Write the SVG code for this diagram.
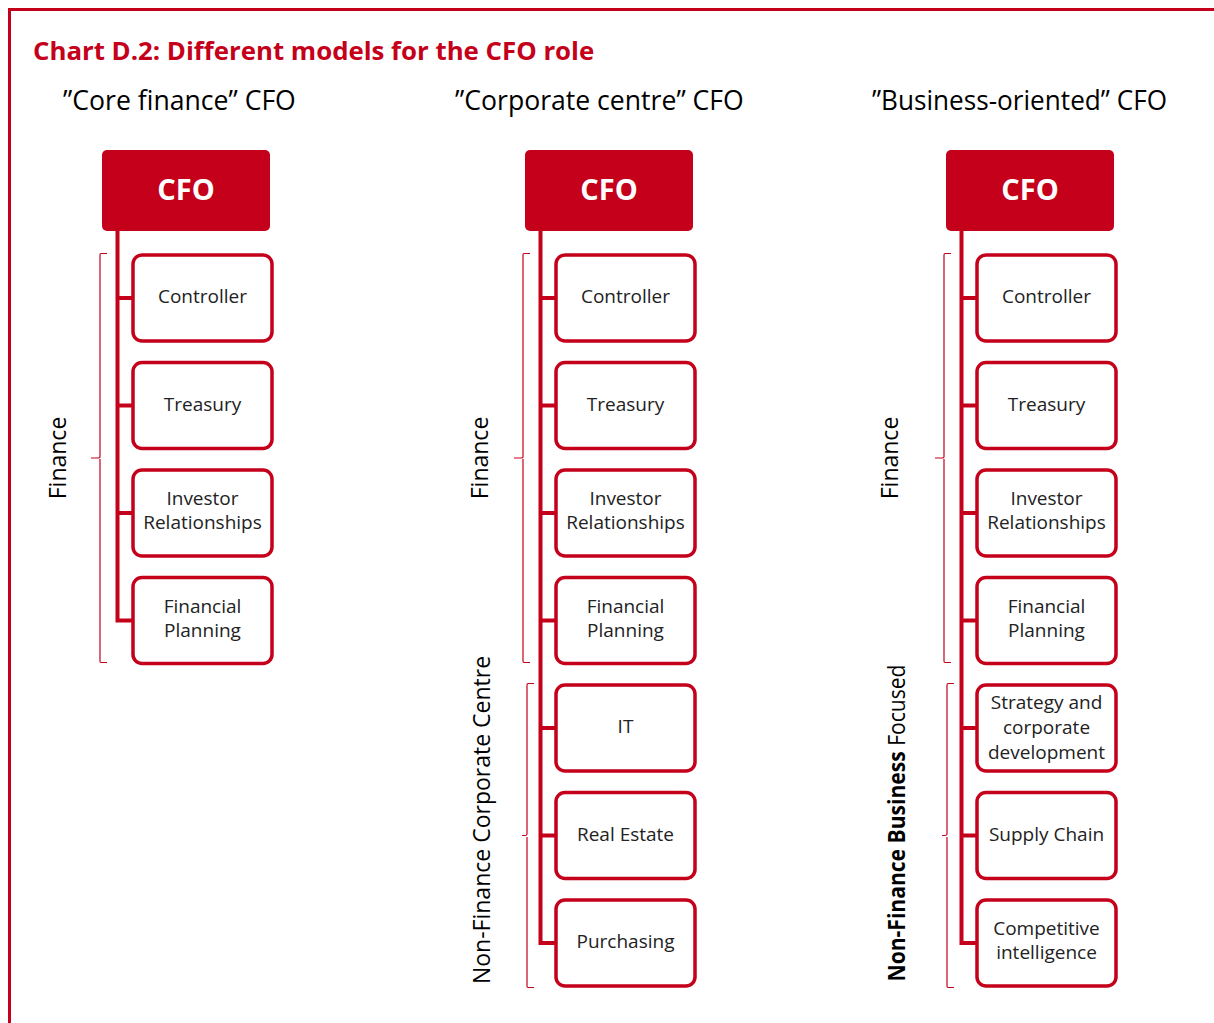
<svg xmlns="http://www.w3.org/2000/svg" width="1214" height="1023" viewBox="0 0 1214 1023">
  <style>
    .frame { fill: none; stroke: #C4001A; stroke-width: 3; }
    .title { font-family: "Open Sans", "Liberation Sans", sans-serif; font-weight: bold; font-size: 25.8px; fill: #C4001A; }
    .sub { font-family: "Open Sans", "Liberation Sans", sans-serif; font-size: 26.6px; fill: #000; }
    .cfo-box { fill: #C4001A; }
    .cfo-label { font-family: "Open Sans", "Liberation Sans", sans-serif; font-weight: bold; font-size: 29px; fill: #fff; text-anchor: middle; }
    .unit-box { fill: #fff; stroke: #C4001A; stroke-width: 3.5; }
    .unit-label { font-family: "Open Sans", "Liberation Sans", sans-serif; font-size: 19px; fill: #222; text-anchor: middle; }
    .trunk { fill: none; stroke: #C4001A; stroke-width: 4; }
    .brace { fill: none; stroke: #C4001A; stroke-width: 1.2; }
    .group { font-family: "Open Sans", "Liberation Sans", sans-serif; font-size: 23px; fill: #000; text-anchor: middle; }
  </style>

  <!-- frame -->
  <path class="frame" d="M9.5,1023 V9.5 H1214"/>

  <text class="title" x="33" y="60">Chart D.2: Different models for the CFO role</text>
  <text class="sub" x="63" y="110">”Core finance” CFO</text>
  <text class="sub" x="455" y="110">”Corporate centre” CFO</text>
  <text class="sub" x="872" y="110" textLength="295" lengthAdjust="spacingAndGlyphs">”Business-oriented” CFO</text>

  <!-- connectors: trunks and branches -->
  <g id="connectors">
    <path class="trunk" d="M117.5,231 V620.5 H133 M117.5,298 H133 M117.5,405.5 H133 M117.5,513 H133"/>
    <path class="trunk" d="M540.5,231 V943 H557 M540.5,298 H557 M540.5,405.5 H557 M540.5,513 H557 M540.5,620.5 H557 M540.5,728 H557 M540.5,835.5 H557"/>
    <path class="trunk" d="M961.5,231 V943 H977 M961.5,298 H977 M961.5,405.5 H977 M961.5,513 H977 M961.5,620.5 H977 M961.5,728 H977 M961.5,835.5 H977"/>
  </g>

  <!-- braces -->
  <g id="braces">
    <path class="brace" d="M107,253.5 H101 Q100,253.5 100,255 V457 Q100,458 98,458 H91 M100,459 V661 Q100,662.5 101,662.5 H107"/>
    <path class="brace" d="M530,253.5 H524 Q523,253.5 523,255 V457 Q523,458 521,458 H514 M523,459 V661 Q523,662.5 524,662.5 H530"/>
    <path class="brace" d="M951,253.5 H945 Q944,253.5 944,255 V457 Q944,458 942,458 H935 M944,459 V661 Q944,662.5 945,662.5 H951"/>
    <path class="brace" d="M534,683.5 H528 Q527,683.5 527,685 V834 Q527,835.5 525,835.5 H522 M527,837 V986 Q527,987.5 528,987.5 H534"/>
    <path class="brace" d="M954,683.5 H948 Q947,683.5 947,685 V834 Q947,835.5 945,835.5 H942 M947,837 V986 Q947,987.5 948,987.5 H954"/>
  </g>

  <!-- group labels -->
  <text class="group" transform="translate(66,458) rotate(-90)">Finance</text>
  <text class="group" transform="translate(488,458) rotate(-90)">Finance</text>
  <text class="group" transform="translate(898,458) rotate(-90)">Finance</text>
  <text class="group" transform="translate(490,820) rotate(-90)" font-size="22">Non-Finance Corporate Centre</text>
  <text class="group" transform="translate(905,823) rotate(-90)" font-size="21.5" textLength="317" lengthAdjust="spacingAndGlyphs"><tspan font-weight="bold">Non-Finance Business</tspan> Focused</text>

  <!-- column 1: core finance -->
  <g id="cfo1" transform="translate(102,150)"><rect class="cfo-box" width="168" height="81" rx="5"/><text class="cfo-label" x="84" y="50">CFO</text></g>
  <g id="c1-controller" transform="translate(133,255)"><rect class="unit-box" width="139" height="86" rx="9"/><text class="unit-label" x="69.5" y="48">Controller</text></g>
  <g id="c1-treasury" transform="translate(133,362.5)"><rect class="unit-box" width="139" height="86" rx="9"/><text class="unit-label" x="69.5" y="48">Treasury</text></g>
  <g id="c1-investor" transform="translate(133,470)"><rect class="unit-box" width="139" height="86" rx="9"/><text class="unit-label" x="69.5" y="35">Investor</text><text class="unit-label" x="69.5" y="59">Relationships</text></g>
  <g id="c1-planning" transform="translate(133,577.5)"><rect class="unit-box" width="139" height="86" rx="9"/><text class="unit-label" x="69.5" y="35">Financial</text><text class="unit-label" x="69.5" y="59">Planning</text></g>

  <!-- column 2: corporate centre -->
  <g id="cfo2" transform="translate(525,150)"><rect class="cfo-box" width="168" height="81" rx="5"/><text class="cfo-label" x="84" y="50">CFO</text></g>
  <g id="c2-controller" transform="translate(556,255)"><rect class="unit-box" width="139" height="86" rx="9"/><text class="unit-label" x="69.5" y="48">Controller</text></g>
  <g id="c2-treasury" transform="translate(556,362.5)"><rect class="unit-box" width="139" height="86" rx="9"/><text class="unit-label" x="69.5" y="48">Treasury</text></g>
  <g id="c2-investor" transform="translate(556,470)"><rect class="unit-box" width="139" height="86" rx="9"/><text class="unit-label" x="69.5" y="35">Investor</text><text class="unit-label" x="69.5" y="59">Relationships</text></g>
  <g id="c2-planning" transform="translate(556,577.5)"><rect class="unit-box" width="139" height="86" rx="9"/><text class="unit-label" x="69.5" y="35">Financial</text><text class="unit-label" x="69.5" y="59">Planning</text></g>
  <g id="c2-it" transform="translate(556,685)"><rect class="unit-box" width="139" height="86" rx="9"/><text class="unit-label" x="69.5" y="48">IT</text></g>
  <g id="c2-realestate" transform="translate(556,792.5)"><rect class="unit-box" width="139" height="86" rx="9"/><text class="unit-label" x="69.5" y="48">Real Estate</text></g>
  <g id="c2-purchasing" transform="translate(556,900)"><rect class="unit-box" width="139" height="86" rx="9"/><text class="unit-label" x="69.5" y="48">Purchasing</text></g>

  <!-- column 3: business-oriented -->
  <g id="cfo3" transform="translate(946,150)"><rect class="cfo-box" width="168" height="81" rx="5"/><text class="cfo-label" x="84" y="50">CFO</text></g>
  <g id="c3-controller" transform="translate(977,255)"><rect class="unit-box" width="139" height="86" rx="9"/><text class="unit-label" x="69.5" y="48">Controller</text></g>
  <g id="c3-treasury" transform="translate(977,362.5)"><rect class="unit-box" width="139" height="86" rx="9"/><text class="unit-label" x="69.5" y="48">Treasury</text></g>
  <g id="c3-investor" transform="translate(977,470)"><rect class="unit-box" width="139" height="86" rx="9"/><text class="unit-label" x="69.5" y="35">Investor</text><text class="unit-label" x="69.5" y="59">Relationships</text></g>
  <g id="c3-planning" transform="translate(977,577.5)"><rect class="unit-box" width="139" height="86" rx="9"/><text class="unit-label" x="69.5" y="35">Financial</text><text class="unit-label" x="69.5" y="59">Planning</text></g>
  <g id="c3-strategy" transform="translate(977,685)"><rect class="unit-box" width="139" height="86" rx="9"/><text class="unit-label" x="69.5" y="24">Strategy and</text><text class="unit-label" x="69.5" y="49">corporate</text><text class="unit-label" x="69.5" y="74">development</text></g>
  <g id="c3-supply" transform="translate(977,792.5)"><rect class="unit-box" width="139" height="86" rx="9"/><text class="unit-label" x="69.5" y="48">Supply Chain</text></g>
  <g id="c3-intel" transform="translate(977,900)"><rect class="unit-box" width="139" height="86" rx="9"/><text class="unit-label" x="69.5" y="35">Competitive</text><text class="unit-label" x="69.5" y="59">intelligence</text></g>
</svg>
